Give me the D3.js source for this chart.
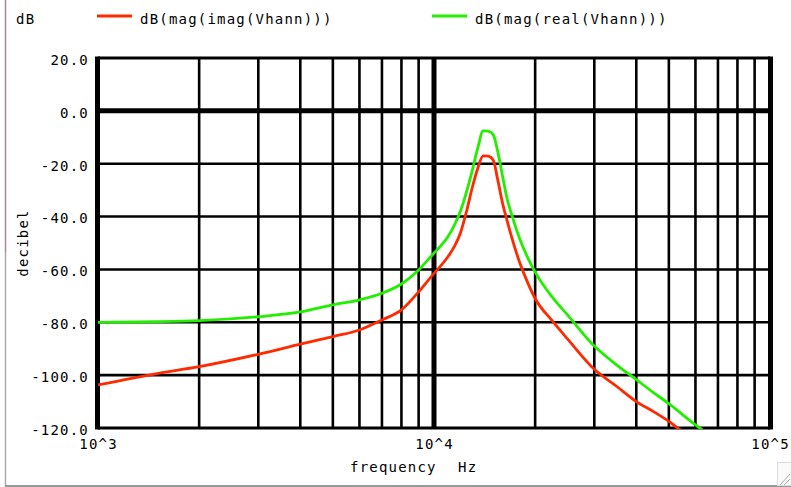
<!DOCTYPE html>
<html>
<head>
<meta charset="utf-8">
<script src="https://cdn.jsdelivr.net/npm/d3@7"></script>
<style>
  html, body { margin: 0; padding: 0; background: #fff; }
  svg { display: block; }
  text { font-family: "DejaVu Sans Mono", "Liberation Mono", monospace; font-size: 14px; fill: #000; letter-spacing: 1.2px; }
</style>
</head>
<body>
<script>
// ---- data ----
const freq = [1000, 1500, 2000, 3000, 4000, 5000, 6000, 7000, 8000, 9000,
  10000, 10500, 11000, 11500, 12000, 12500, 13000, 13500, 14000, 14500,
  15000, 15500, 16000, 16500, 17000, 18000, 19000, 20000, 22500, 25000,
  30000, 35000, 40000, 45000, 50000, 55000, 60000, 65000];
const imagDB = [-103.7, -99.4, -96.8, -92.1, -88.3, -85.4, -82.9, -79.1, -75.3, -68.5,
  -61.5, -58.5, -55.2, -51.3, -46.0, -38.0, -29.0, -21.7, -17.0, -17.1,
  -18.6, -26.5, -35.0, -41.5, -47.5, -57.5, -65.0, -71.0, -79.5, -86.4,
  -97.8, -104.3, -110.0, -113.8, -117.5, -121.5, -125.0, -128.0];
const realDB = [-80.0, -79.8, -79.4, -77.9, -76.1, -73.4, -71.5, -69.0, -65.5, -60.2,
  -53.8, -50.9, -47.6, -43.2, -37.8, -30.6, -22.5, -14.0, -7.6, -7.7,
  -9.0, -15.8, -24.8, -33.2, -39.0, -48.5, -55.5, -61.0, -70.5, -77.3,
  -89.0, -96.2, -101.7, -106.6, -110.8, -115.0, -118.8, -122.0];
const seriesNames = ["dB(mag(imag(Vhann)))", "dB(mag(real(Vhann)))"];
const seriesColors = ["#ff2a00", "#22ee00"];
const xTickValues = [1e3, 1e4, 1e5];
const xTickLabels = ["10^3", "10^4", "10^5"];
const yTickValues = [-120, -100, -80, -60, -40, -20, 0, 20];

// ---- layout ----
const W = 791, H = 487;
const L = 98, R = 770, T = 58, B = 428;

const svg = d3.select("body").append("svg").attr("width", W).attr("height", H);

// window frame
svg.append("line").attr("x1", 5.5).attr("x2", 5.5).attr("y1", 0).attr("y2", 252)
  .attr("stroke", "#a58a9c").attr("stroke-width", 1.5);
svg.append("line").attr("x1", 5.5).attr("x2", 5.5).attr("y1", 252).attr("y2", 487)
  .attr("stroke", "#aaaaaa").attr("stroke-width", 1.5);
svg.append("line").attr("x1", 5).attr("x2", W).attr("y1", 486).attr("y2", 486)
  .attr("stroke", "#999999").attr("stroke-width", 2);
// resize grip
svg.append("rect").attr("x", 777.5).attr("y", 462.5).attr("width", 14).attr("height", 23)
  .attr("fill", "#fafafa").attr("stroke", "#dddddd");
[[780, 485, 790, 474], [784, 485, 790, 479]].forEach(s =>
  svg.append("line").attr("x1", s[0]).attr("y1", s[1]).attr("x2", s[2]).attr("y2", s[3])
    .attr("stroke", "#aaaaaa").attr("stroke-width", 1));

const x = d3.scaleLog().domain([1e3, 1e5]).range([L, R]);
const y = d3.scaleLinear().domain([-120, 20]).range([B, T]);

// grid
const g = svg.append("g");
x.ticks().forEach(v => {
  if (v === 1e3 || v === 1e5) return;
  const thick = Math.abs(Math.log10(v) - Math.round(Math.log10(v))) < 1e-9;
  g.append("line").attr("x1", x(v)).attr("x2", x(v)).attr("y1", T).attr("y2", B)
    .attr("stroke", "#000").attr("stroke-width", thick ? 5 : 2.6);
});
yTickValues.forEach(v => {
  if (v === -120 || v === 20) return;
  g.append("line").attr("x1", L).attr("x2", R).attr("y1", y(v)).attr("y2", y(v))
    .attr("stroke", "#000").attr("stroke-width", v === 0 ? 5 : 2.6);
});
// plot border
g.append("line").attr("x1", L).attr("x2", R).attr("y1", T).attr("y2", T).attr("stroke", "#000").attr("stroke-width", 3);
g.append("line").attr("x1", L).attr("x2", R).attr("y1", B).attr("y2", B).attr("stroke", "#000").attr("stroke-width", 3);
g.append("line").attr("x1", L - 0.5).attr("x2", L - 0.5).attr("y1", T - 1.5).attr("y2", B + 1.5).attr("stroke", "#000").attr("stroke-width", 5);
g.append("line").attr("x1", R + 0.5).attr("x2", R + 0.5).attr("y1", T - 1.5).attr("y2", B + 1.5).attr("stroke", "#000").attr("stroke-width", 5);

// axes (labels only)
const yAxis = d3.axisLeft(y).tickValues(yTickValues).tickSize(0).tickPadding(0)
  .tickFormat(d => d.toFixed(1));
const ya = svg.append("g").attr("transform", `translate(${L - 9},0)`).call(yAxis);
ya.select(".domain").remove();
ya.selectAll("text").attr("font-size", null).attr("font-family", null).attr("dy", "0.45em");

const xAxis = d3.axisBottom(x).tickValues(xTickValues).tickSize(0).tickPadding(0)
  .tickFormat((d, i) => xTickLabels[i]);
const xa = svg.append("g").attr("transform", `translate(0,${B + 21})`).call(xAxis);
xa.select(".domain").remove();
xa.selectAll("text").attr("font-size", null).attr("font-family", null).attr("dy", 0);

// axis titles
svg.append("text").attr("x", 350).attr("y", 472).text("frequency");
svg.append("text").attr("x", 458).attr("y", 472).text("Hz");
svg.append("text").attr("transform", "translate(28,243) rotate(-90)").attr("text-anchor", "middle").text("decibel");
svg.append("text").attr("x", 16).attr("y", 24).text("dB");

// legend
const legendX = [97, 432];
seriesNames.forEach((n, i) => {
  svg.append("line").attr("x1", legendX[i]).attr("x2", legendX[i] + 35).attr("y1", 16).attr("y2", 16)
    .attr("stroke", seriesColors[i]).attr("stroke-width", 3);
  svg.append("text").attr("x", legendX[i] + 43).attr("y", 24).text(n);
});

// curves
svg.append("clipPath").attr("id", "clip").append("rect")
  .attr("x", L).attr("y", T).attr("width", R - L).attr("height", B - T + 1);
const line = d3.line().x(d => x(d[0])).y(d => y(d[1])).curve(d3.curveMonotoneX);
const series = [imagDB, realDB];
series.forEach((vals, i) => {
  svg.append("path").attr("clip-path", "url(#clip)")
    .attr("d", line(freq.map((f, k) => [f, vals[k]])))
    .attr("fill", "none").attr("stroke", seriesColors[i]).attr("stroke-width", 2.8)
    .attr("stroke-linejoin", "round");
});
</script>
</body>
</html>
